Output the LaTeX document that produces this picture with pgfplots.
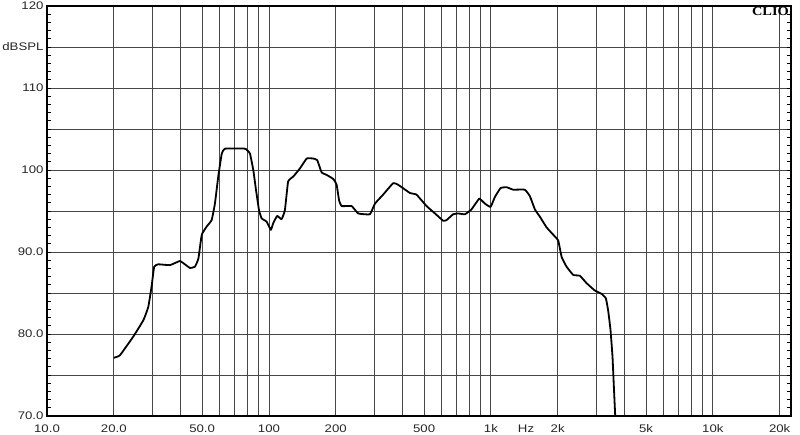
\documentclass[border=0pt]{standalone}
\usepackage{fontspec}
\setmainfont{Liberation Sans}[FakeStretch=1.2]
\newfontfamily\cliofont{Liberation Serif}[FakeStretch=1.15]
\usepackage{pgfplots}
\pgfplotsset{compat=1.18}
\pgfplotstableread{
f db
20 77.1
21.3 77.4
24.5 79.7
27.2 81.7
28.6 83.3
29.6 85.8
30.4 88.2
31.7 88.5
35.8 88.4
39.7 88.9
41.8 88.5
44.1 88.05
46.4 88.2
48.1 89.2
49.8 92.1
52.4 93.1
55.2 93.9
57.1 95.9
59.1 99.2
61.3 102.0
63.4 102.6
78.0 102.6
82.1 102.0
85.0 100.0
87.4 97.6
90.2 95.1
92.7 94.1
97.6 93.7
102 92.7
104.5 93.5
108.9 94.4
114 94.0
118 95.1
122 98.6
128.7 99.2
138 100.2
147.9 101.4
158.3 101.4
165 101.2
172.8 99.7
182 99.4
195 98.9
201.8 98.2
207 96.3
212.6 95.6
235.8 95.6
252.5 94.7
285 94.6
300.3 95.9
327 97.0
363 98.4
382 98.2
431.5 97.2
462 97.0
513 95.6
560 94.7
610 93.8
632 93.9
676 94.6
712 94.7
764 94.6
818 95.2
886 96.5
940 95.9
997 95.5
1042 96.7
1106 97.8
1177 97.9
1260 97.6
1422 97.6
1499 96.8
1578 95.2
1663 94.3
1782 93.0
1941 91.9
2011 91.4
2083 89.4
2193 88.2
2350 87.2
2518 87.1
2698 86.2
2941 85.3
3152 84.9
3296 84.35
3374 82.9
3459 80.5
3532 77.2
3581 73.6
3631 70.1
3650 69
}\spl
\begin{document}
\begin{tikzpicture}
\path[use as bounding box] (-47pt,-19pt) rectangle (753pt,416pt);
\begin{axis}[
  at={(0pt,0pt)}, anchor=south west,
  scale only axis, width=744pt, height=410pt,
  xmode=log, xmin=10, xmax=22500, ymin=70, ymax=120,
  xtick={10,20,30,40,50,60,70,80,90,100,200,300,400,500,600,700,800,900,1000,2000,3000,4000,5000,6000,7000,8000,9000,10000,20000},
  xticklabels={10.0,20.0,,,50.0,,,,,100,200,,,500,,,,,1k,2k,,,5k,,,,,10k,20k},
  extra x ticks={1440},
  extra x tick labels={Hz},
  extra x tick style={grid=none},
  xminorticks=false,
  ytick={70,75,...,120},
  yticklabels={70.0,,80.0,,90.0,,100,,110,dBSPL,120},
  minor ytick={70,71,...,120},
  ytick pos=both, yticklabel pos=left,
  xtick pos=bottom,
  tick align=inside,
  major tick length=0pt,
  minor tick length=4pt,
  minor tick style={black, line width=0.6pt},
  grid=major,
  major grid style={black!72, line width=0.9pt},
  axis line style={black, line width=1.6pt},
  tick label style={font=\fontsize{11pt}{13pt}\selectfont, text=black!85},
  xticklabel style={yshift=-5pt},
]
\addplot[black, line width=1.8pt, line join=round, smooth, tension=0.2] table[x=f, y=db] {\spl};
\node[anchor=north east, inner sep=0pt, font=\cliofont\bfseries\fontsize{12.5pt}{14pt}\selectfont] at (rel axis cs:1,1) [xshift=-2pt, yshift=-1.5pt] {CLIO};
\end{axis}
\end{tikzpicture}
\end{document}
